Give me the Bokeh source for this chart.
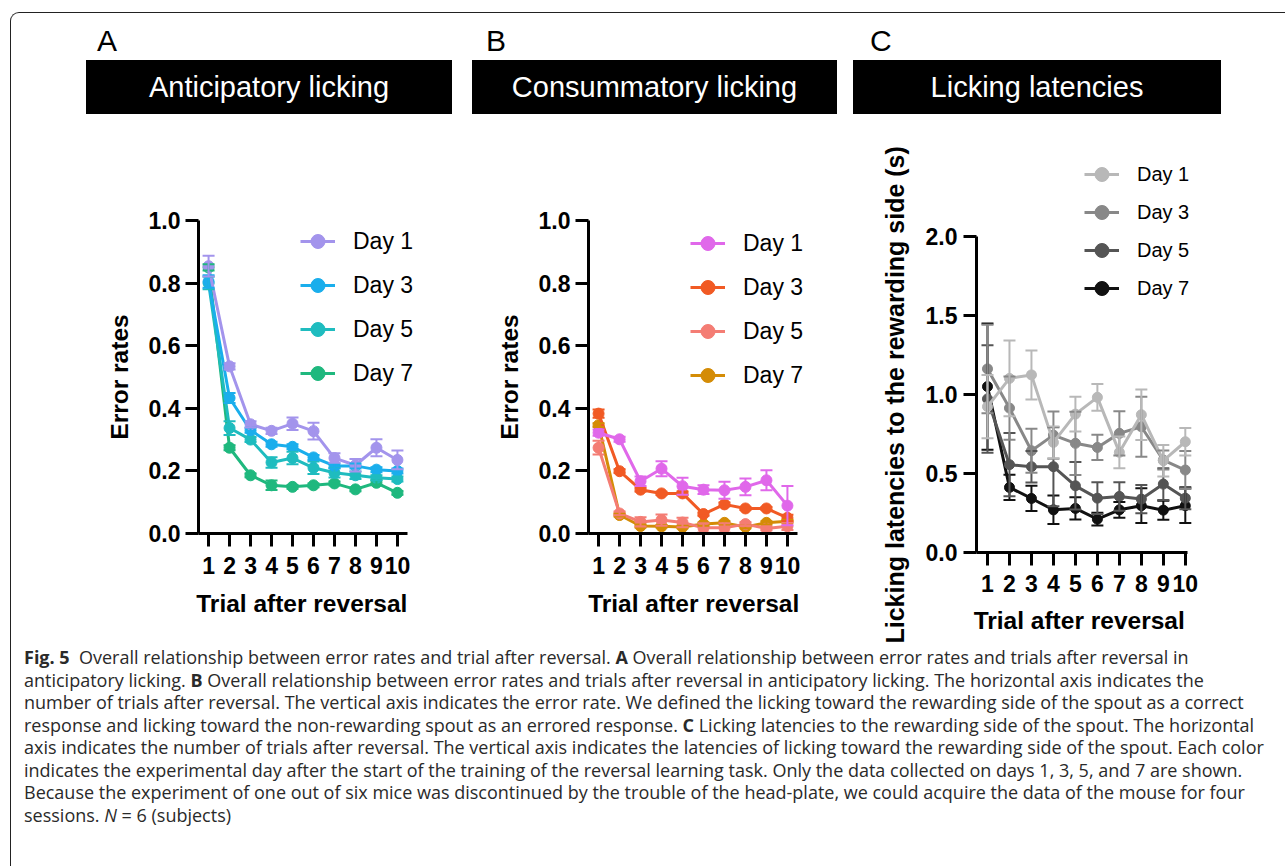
from bokeh.plotting import figure
from bokeh.models import (ColumnDataSource, Whisker, TeeHead, Legend, LegendItem,
                          Div, FixedTicker, NumeralTickFormatter, Range1d, Title)
from bokeh.layouts import row, column
from bokeh.embed import file_html
from bokeh.resources import INLINE

# ---------------- data ----------------
trials = [1, 2, 3, 4, 5, 6, 7, 8, 9, 10]
day_labels = ["Day 1", "Day 3", "Day 5", "Day 7"]

# Panel A: anticipatory licking, error rates (mean, sem)
a_day1 = [0.854, 0.534, 0.349, 0.328, 0.351, 0.327, 0.241, 0.218, 0.274, 0.235]
a_day1_err = [0.033, 0.010, 0.010, 0.010, 0.020, 0.027, 0.015, 0.020, 0.027, 0.030]
a_day3 = [0.805, 0.433, 0.330, 0.285, 0.277, 0.243, 0.216, 0.216, 0.204, 0.200]
a_day3_err = [0.020, 0.016, 0.008, 0.008, 0.008, 0.008, 0.008, 0.008, 0.008, 0.008]
a_day5 = [0.800, 0.337, 0.300, 0.227, 0.241, 0.210, 0.194, 0.186, 0.178, 0.174]
a_day5_err = [0.020, 0.022, 0.008, 0.017, 0.020, 0.020, 0.015, 0.012, 0.008, 0.008]
a_day7 = [0.850, 0.274, 0.186, 0.154, 0.149, 0.154, 0.160, 0.141, 0.162, 0.130]
a_day7_err = [0.010, 0.008, 0.006, 0.015, 0.006, 0.006, 0.006, 0.006, 0.008, 0.006]

# Panel B: consummatory licking, error rates
b_day1 = [0.322, 0.301, 0.167, 0.207, 0.151, 0.140, 0.138, 0.149, 0.170, 0.089]
b_day1_err = [0.010, 0.008, 0.015, 0.024, 0.027, 0.014, 0.027, 0.027, 0.032, 0.063]
b_day3 = [0.383, 0.199, 0.140, 0.128, 0.128, 0.062, 0.093, 0.080, 0.080, 0.050]
b_day3_err = [0.013, 0.006, 0.006, 0.005, 0.006, 0.005, 0.006, 0.005, 0.005, 0.010]
b_day5 = [0.274, 0.064, 0.037, 0.043, 0.035, 0.018, 0.018, 0.030, 0.016, 0.023]
b_day5_err = [0.022, 0.006, 0.015, 0.018, 0.015, 0.015, 0.015, 0.006, 0.006, 0.012]
b_day7 = [0.346, 0.059, 0.024, 0.023, 0.021, 0.030, 0.034, 0.021, 0.034, 0.039]
b_day7_err = [0.006, 0.005, 0.005, 0.004, 0.004, 0.005, 0.005, 0.004, 0.005, 0.005]

# Panel C: licking latencies (s)
c_day1 = [0.923, 1.102, 1.124, 0.697, 0.876, 0.982, 0.634, 0.872, 0.581, 0.701]
c_day1_err = [0.20, 0.24, 0.155, 0.10, 0.11, 0.085, 0.10, 0.16, 0.10, 0.087]
c_day3 = [1.162, 0.914, 0.644, 0.743, 0.691, 0.665, 0.754, 0.796, 0.585, 0.522]
c_day3_err = [0.28, 0.20, 0.14, 0.15, 0.20, 0.08, 0.14, 0.19, 0.06, 0.12]
c_day5 = [0.972, 0.556, 0.543, 0.543, 0.422, 0.344, 0.355, 0.338, 0.433, 0.344]
c_day5_err = [0.34, 0.20, 0.10, 0.25, 0.15, 0.10, 0.09, 0.09, 0.10, 0.07]
c_day7 = [1.050, 0.412, 0.342, 0.270, 0.279, 0.211, 0.270, 0.296, 0.268, 0.296]
c_day7_err = [0.40, 0.08, 0.08, 0.09, 0.07, 0.04, 0.05, 0.11, 0.06, 0.11]

a_colors = ["#a394ec", "#1aaeec", "#1fbcbf", "#1fb87e"]
b_colors = ["#e068ea", "#f15a24", "#f47d74", "#d48c06"]
c_colors = ["#b8b8b8", "#888888", "#555555", "#111111"]

err_ticks = [0.0, 0.2, 0.4, 0.6, 0.8, 1.0]
lat_ticks = [0.0, 0.5, 1.0, 1.5, 2.0]

x_title = "Trial after reversal"
a_ytitle = "Error rates"
b_ytitle = "Error rates"
c_ytitle = "Licking latencies to the rewarding side (s)"

CHART_FONT = "Liberation Sans"
NBSP = "\u00a0"


def make_panel(series, errors, colors, axis_w, axis_h, extra_r, extra_t,
               b_left, b_right, b_top, b_bottom,
               xb, yb, yticks, ylabel, ylabel_size, xpad, ytitle_offset,
               legend_loc, legend_row, legend_font, msize,
               x_std, xl_std, y_std, yl_std):
    # the axes span xb / yb over axis_w / axis_h pixels; the frame is extended
    # right/top so that the legend (partly beyond the axes) is not clipped
    ppx = axis_w / (xb[1] - xb[0])
    ppy = axis_h / (yb[1] - yb[0])
    xr = (xb[0], xb[1] + extra_r / ppx)
    yr = (yb[0], yb[1] + extra_t / ppy)
    p = figure(frame_width=axis_w + extra_r, frame_height=axis_h + extra_t,
               min_border_left=b_left, min_border_right=b_right,
               min_border_top=b_top, min_border_bottom=b_bottom,
               x_range=Range1d(*xr), y_range=Range1d(*yr),
               output_backend="svg", toolbar_location=None)
    p.frame_align = False
    p.outline_line_color = None
    p.xgrid.visible = False
    p.ygrid.visible = False
    p.background_fill_color = "white"
    p.border_fill_color = "white"

    renderers = []
    # draw Day 7 first so Day 1 ends on top
    for vals, errs, col in reversed(list(zip(series, errors, colors))):
        upper = [v + e for v, e in zip(vals, errs)]
        lower = [v - e for v, e in zip(vals, errs)]
        src = ColumnDataSource(dict(x=trials, y=vals, upper=upper, lower=lower))
        w = Whisker(source=src, base="x", upper="upper", lower="lower",
                    line_color=col, line_width=2,
                    upper_head=TeeHead(size=12, line_color=col, line_width=2),
                    lower_head=TeeHead(size=12, line_color=col, line_width=2))
        w.level = "glyph"
        p.add_layout(w)
        lr = p.line("x", "y", source=src, line_color=col, line_width=3)
        sr = p.scatter("x", "y", source=src, size=msize, fill_color=col, line_color=col)
        renderers.append((lr, sr))
    renderers = list(reversed(renderers))

    items = [LegendItem(label=lab, renderers=list(r)) for lab, r in zip(day_labels, renderers)]
    leg = Legend(items=items, location=legend_loc, glyph_width=35, glyph_height=legend_row,
                 label_height=legend_row, label_standoff=18, spacing=0, padding=0, margin=0,
                 border_line_color=None, background_fill_alpha=0,
                 label_text_font=CHART_FONT, label_text_font_size=legend_font,
                 label_text_color="black")
    p.add_layout(leg)

    for ax in (p.xaxis[0], p.yaxis[0]):
        ax.axis_line_width = 3
        ax.axis_line_color = "black"
        ax.major_tick_line_width = 3
        ax.major_tick_line_color = "black"
        ax.major_tick_out = 13
        ax.major_tick_in = 0
        ax.minor_tick_out = 0
        ax.minor_tick_in = 0
        ax.major_label_text_font = CHART_FONT
        ax.major_label_text_font_style = "bold"
        ax.major_label_text_font_size = "23px"
        ax.major_label_text_color = "black"
        ax.axis_label_text_font = CHART_FONT
        ax.axis_label_text_font_style = "bold"
        ax.axis_label_text_font_size = "24.5px"
        ax.axis_label_text_color = "black"

    p.xaxis.bounds = xb
    p.yaxis.bounds = yb
    p.xaxis.ticker = FixedTicker(ticks=trials)
    p.yaxis.ticker = FixedTicker(ticks=yticks)
    p.yaxis.formatter = NumeralTickFormatter(format="0.0")
    # trailing non-breaking spaces re-centre the label on the axis, not the extended frame
    p.xaxis.axis_label = x_title + NBSP * xpad
    p.xaxis.major_label_standoff = x_std
    p.xaxis.axis_label_standoff = xl_std
    p.yaxis.major_label_standoff = y_std
    if ytitle_offset is None:
        p.yaxis.axis_label = ylabel
        p.yaxis.axis_label_text_font_size = ylabel_size
        p.yaxis.axis_label_standoff = yl_std
    else:
        # label positioned from the bottom of the frame (frame is taller than the axis)
        t = Title(text=ylabel, align="left", offset=ytitle_offset, standoff=yl_std,
                  text_font=CHART_FONT, text_font_style="bold",
                  text_font_size=ylabel_size, text_color="black")
        p.add_layout(t, "left")
    return p


pA = make_panel([a_day1, a_day3, a_day5, a_day7],
                [a_day1_err, a_day3_err, a_day5_err, a_day7_err], a_colors,
                209, 313, 18, 0, 187, 41, 90, 111, (0.52, 10.48), (0.0, 1.0), err_ticks,
                a_ytitle, "24.5px", 3, None, (102, 138), 44, "23px", 11, 10, 13, 5, 13)
pB = make_panel([b_day1, b_day3, b_day5, b_day7],
                [b_day1_err, b_day3_err, b_day5_err, b_day7_err], b_colors,
                209, 313, 15, 0, 122, 38, 90, 111, (0.52, 10.48), (0.0, 1.0), err_ticks,
                b_ytitle, "24.5px", 2, None, (102, 136), 44, "23px", 11, 10, 13, 5, 13)
pC = make_panel([c_day1, c_day3, c_day5, c_day7],
                [c_day1_err, c_day3_err, c_day5_err, c_day7_err], c_colors,
                211, 316, 8, 93, 126, 90, 13, 92, (0.5, 10.1), (0.0, 2.0), lat_ticks,
                c_ytitle, "25px", 2, -91, (108, 245), 38, "20px", 10, 9, 12, 6, 28)

BORDER = "1px solid #222"
ROW_H = 514
CAP_H = 866 - 130 - ROW_H

header_html = f"""
<div style="position:relative;width:1285px;height:130px;overflow:hidden;background:#fff;
font-family:'Liberation Sans',Arial,sans-serif;">
  <div style="position:absolute;left:10px;top:12px;width:1400px;height:300px;
       border-left:{BORDER};border-top:{BORDER};border-top-left-radius:9px;"></div>
  <div style="position:absolute;left:97px;top:26px;font-size:30px;line-height:30px;color:#000;">A</div>
  <div style="position:absolute;left:486px;top:26px;font-size:30px;line-height:30px;color:#000;">B</div>
  <div style="position:absolute;left:870px;top:26px;font-size:30px;line-height:30px;color:#000;">C</div>
  <div style="position:absolute;left:86px;top:60px;width:366px;height:54px;background:#000;color:#fff;
       font-size:29px;line-height:54px;text-align:center;white-space:nowrap;">Anticipatory licking</div>
  <div style="position:absolute;left:472px;top:60px;width:365px;height:54px;background:#000;color:#fff;
       font-size:29px;line-height:54px;text-align:center;white-space:nowrap;">Consummatory licking</div>
  <div style="position:absolute;left:853px;top:60px;width:368px;height:54px;background:#000;color:#fff;
       font-size:29px;line-height:54px;text-align:center;white-space:nowrap;">Licking latencies</div>
</div>
"""
header = Div(text=header_html, width=1285, height=130, margin=0)

spacer_html = f"""
<div style="position:relative;width:11px;height:{ROW_H}px;background:#fff;">
  <div style="position:absolute;left:10px;top:0px;width:0px;height:{ROW_H}px;border-left:{BORDER};"></div>
</div>
"""
spacer = Div(text=spacer_html, width=11, height=ROW_H, margin=0)

caption_lines = [
    "<b>Fig. 5</b>&nbsp; Overall relationship between error rates and trial after reversal. <b>A</b> Overall relationship between error rates and trials after reversal in",
    "anticipatory licking. <b>B</b> Overall relationship between error rates and trials after reversal in anticipatory licking. The horizontal axis indicates the",
    "number of trials after reversal. The vertical axis indicates the error rate. We defined the licking toward the rewarding side of the spout as a correct",
    "response and licking toward the non-rewarding spout as an errored response. <b>C</b> Licking latencies to the rewarding side of the spout. The horizontal",
    "axis indicates the number of trials after reversal. The vertical axis indicates the latencies of licking toward the rewarding side of the spout. Each color",
    "indicates the experimental day after the start of the training of the reversal learning task. Only the data collected on days 1, 3, 5, and 7 are shown.",
    "Because the experiment of one out of six mice was discontinued by the trouble of the head-plate, we could acquire the data of the mouse for four",
    "sessions. <i>N</i>&nbsp;=&nbsp;6 (subjects)",
]
caption_html = f"""
<div style="position:relative;width:1285px;height:{CAP_H}px;overflow:hidden;background:#fff;">
  <div style="position:absolute;left:10px;top:0px;width:0px;height:{CAP_H}px;border-left:{BORDER};"></div>
  <div style="position:absolute;left:24px;top:2px;font-family:'Open Sans',sans-serif;font-size:18px;
       line-height:22.5px;color:#2a2a2a;white-space:nowrap;">{'<br>'.join(caption_lines)}</div>
</div>
"""
caption = Div(text=caption_html, width=1285, height=CAP_H, margin=0)

layout = column(header, row(spacer, pA, pB, pC, spacing=0), caption, spacing=0)

open("out.html", "w").write(file_html(layout, INLINE))
